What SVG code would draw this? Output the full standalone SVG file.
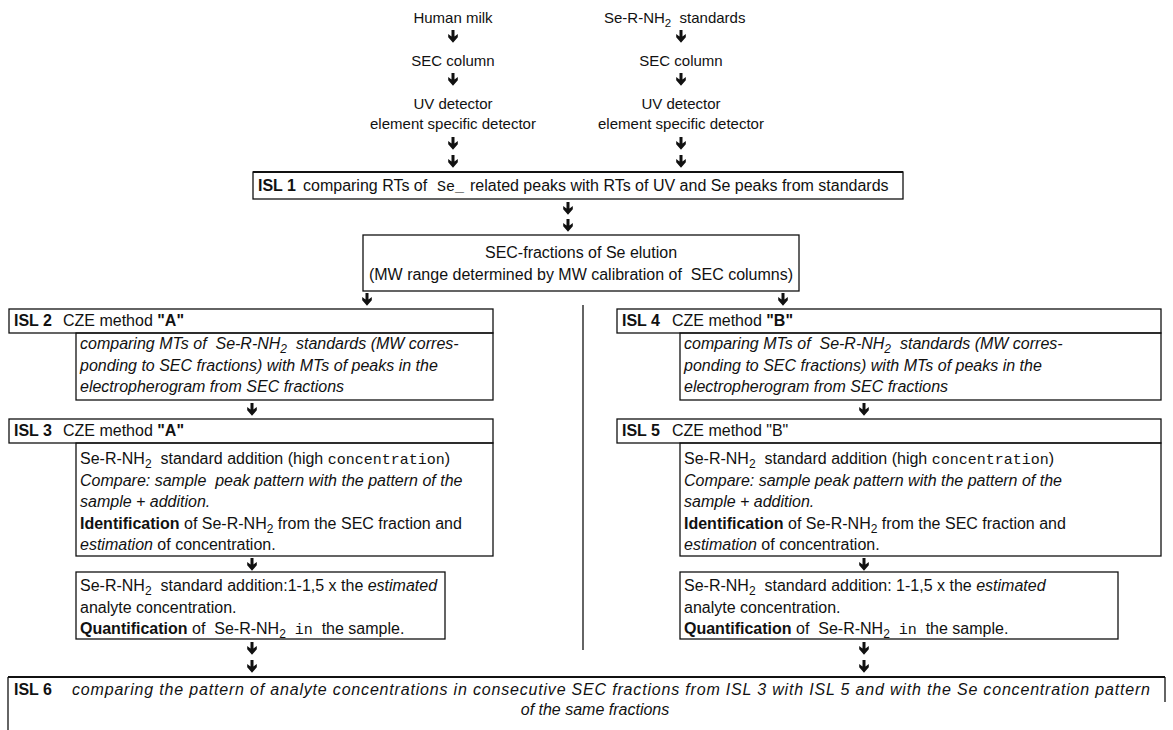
<svg xmlns="http://www.w3.org/2000/svg" width="1173" height="730" viewBox="0 0 1173 730" xml:space="preserve">
<defs>
<style>
.t{font-family:"Liberation Sans",Arial,sans-serif;font-size:16px;fill:#111;white-space:pre}
.s{font-size:15px}
.b{font-weight:bold}
.i{font-style:italic}
.m{font-family:"Liberation Mono","Courier New",monospace;font-size:15px}
.bx{fill:none;stroke:#111;stroke-width:1.3}
.tk{fill:none;stroke:#111;stroke-width:2.2}
.ln{fill:none;stroke:#111;stroke-width:1.3}
</style>
<path id="arr" d="M-1.5,0 H1.5 V6.5 L4.8,4 V7.2 L0,12.8 L-4.8,7.2 V4 L-1.5,6.5 Z" fill="#111"/>
</defs>
<rect width="1173" height="730" fill="#fff"/>

<g id="connectors">
<use href="#arr" x="453" y="30"/>
<use href="#arr" x="453" y="73"/>
<use href="#arr" x="453" y="137"/>
<use href="#arr" x="453" y="155"/>
<use href="#arr" x="681" y="30"/>
<use href="#arr" x="681" y="73"/>
<use href="#arr" x="681" y="137"/>
<use href="#arr" x="681" y="155"/>
<use href="#arr" x="568" y="202"/>
<use href="#arr" x="568" y="219"/>
<use href="#arr" x="367" y="293"/>
<use href="#arr" x="783" y="293"/>
<use href="#arr" x="252" y="403"/>
<use href="#arr" x="864" y="403"/>
<use href="#arr" x="252" y="558"/>
<use href="#arr" x="864" y="558"/>
<use href="#arr" x="252" y="642"/>
<use href="#arr" x="252" y="660"/>
<use href="#arr" x="864" y="642"/>
<use href="#arr" x="864" y="660"/>
<line class="ln" x1="583" y1="305" x2="583" y2="650"/>
</g>

<g id="milk">
<text class="t s" x="453" y="23" text-anchor="middle">Human milk</text>
<text class="t s" x="453" y="66" text-anchor="middle">SEC column</text>
<text class="t s" x="453" y="109" text-anchor="middle">UV detector</text>
<text class="t s" x="453" y="129" text-anchor="middle">element specific detector</text>
</g>

<g id="standards">
<text class="t s" x="604" y="23">Se-R-NH<tspan font-size="11.5" dy="4">2</tspan><tspan dy="-4">  standards</tspan></text>
<text class="t s" x="681" y="66" text-anchor="middle">SEC column</text>
<text class="t s" x="681" y="109" text-anchor="middle">UV detector</text>
<text class="t s" x="681" y="129" text-anchor="middle">element specific detector</text>
</g>

<g id="isl1">
<rect class="bx" x="253" y="172" width="650" height="27"/>
<line class="tk" x1="253" y1="172" x2="903" y2="172"/>
<text class="t b" x="258" y="191">ISL 1</text>
<text class="t" x="303" y="191">comparing RTs of</text>
<text class="t m" x="437" y="191">Se_</text>
<text class="t" x="470" y="191">related peaks with RTs of UV and Se peaks from standards</text>
</g>

<g id="secfractions">
<rect class="bx" x="363" y="235" width="436" height="56"/>
<text class="t" x="581" y="258" text-anchor="middle">SEC-fractions of Se elution</text>
<text class="t" x="581" y="280" text-anchor="middle">(MW range determined by MW calibration of  SEC columns)</text>
</g>

<g id="isl2">
<rect class="bx" x="9" y="309" width="484" height="24"/>
<rect class="bx" x="76" y="333" width="417" height="67"/>
<text class="t b" x="14" y="326">ISL 2</text>
<text class="t" x="63" y="326">CZE method <tspan class="b">"A"</tspan></text>
<text class="t i" x="80" y="349">comparing MTs of  Se-R-NH<tspan font-size="12" dy="4">2</tspan><tspan dy="-4">  standards (MW corres-</tspan></text>
<text class="t i" x="80" y="370.5">ponding to SEC fractions) with MTs of peaks in the</text>
<text class="t i" x="80" y="392">electropherogram from SEC fractions</text>
</g>

<g id="isl3">
<rect class="bx" x="9" y="419" width="484" height="24"/>
<rect class="bx" x="76" y="443" width="417" height="113"/>
<text class="t b" x="14" y="436">ISL 3</text>
<text class="t" x="63" y="436">CZE method <tspan class="b">"A"</tspan></text>
<text class="t" x="80" y="464">Se-R-NH<tspan font-size="12" dy="4">2</tspan><tspan dy="-4">  standard addition (high </tspan><tspan class="m">concentration</tspan>)</text>
<text class="t i" x="80" y="485.5">Compare: sample  peak pattern with the pattern of the</text>
<text class="t i" x="80" y="507">sample + addition.</text>
<text class="t" x="80" y="528.5"><tspan class="b">Identification</tspan> of Se-R-NH<tspan font-size="12" dy="4">2</tspan><tspan dy="-4"> from the SEC fraction and</tspan></text>
<text class="t" x="80" y="550"><tspan class="i">estimation</tspan> of concentration.</text>
</g>

<g id="quantA">
<rect class="bx" x="76" y="572" width="369" height="67"/>
<text class="t" x="80" y="591">Se-R-NH<tspan font-size="12" dy="4">2</tspan><tspan dy="-4">  standard addition:1-1,5 x the </tspan><tspan class="i">estimated</tspan></text>
<text class="t" x="80" y="612.5">analyte concentration.</text>
<text class="t" x="80" y="634"><tspan class="b">Quantification</tspan> of  Se-R-NH<tspan font-size="12" dy="4">2</tspan><tspan dy="-4">  </tspan><tspan class="m">in</tspan>  the sample.</text>
</g>

<g id="isl4">
<rect class="bx" x="617" y="309" width="544" height="24"/>
<rect class="bx" x="680" y="333" width="481" height="67"/>
<text class="t b" x="622" y="326">ISL 4</text>
<text class="t" x="672" y="326">CZE method <tspan class="b">"B"</tspan></text>
<text class="t i" x="684" y="349">comparing MTs of  Se-R-NH<tspan font-size="12" dy="4">2</tspan><tspan dy="-4">  standards (MW corres-</tspan></text>
<text class="t i" x="684" y="370.5">ponding to SEC fractions) with MTs of peaks in the</text>
<text class="t i" x="684" y="392">electropherogram from SEC fractions</text>
</g>

<g id="isl5">
<rect class="bx" x="617" y="419" width="544" height="24"/>
<rect class="bx" x="680" y="443" width="481" height="113"/>
<text class="t b" x="622" y="436">ISL 5</text>
<text class="t" x="672" y="436">CZE method "B"</text>
<text class="t" x="684" y="464">Se-R-NH<tspan font-size="12" dy="4">2</tspan><tspan dy="-4">  standard addition (high </tspan><tspan class="m">concentration</tspan>)</text>
<text class="t i" x="684" y="485.5">Compare: sample peak pattern with the pattern of the</text>
<text class="t i" x="684" y="507">sample + addition.</text>
<text class="t" x="684" y="528.5"><tspan class="b">Identification</tspan> of Se-R-NH<tspan font-size="12" dy="4">2</tspan><tspan dy="-4"> from the SEC fraction and</tspan></text>
<text class="t" x="684" y="550"><tspan class="i">estimation</tspan> of concentration.</text>
</g>

<g id="quantB">
<rect class="bx" x="680" y="572" width="438" height="67"/>
<text class="t" x="684" y="591">Se-R-NH<tspan font-size="12" dy="4">2</tspan><tspan dy="-4">  standard addition: 1-1,5 x the </tspan><tspan class="i">estimated</tspan></text>
<text class="t" x="684" y="612.5">analyte concentration.</text>
<text class="t" x="684" y="634"><tspan class="b">Quantification</tspan> of  Se-R-NH<tspan font-size="12" dy="4">2</tspan><tspan dy="-4">  </tspan><tspan class="m">in</tspan>  the sample.</text>
</g>

<g id="isl6">
<line class="tk" x1="8" y1="677" x2="1165" y2="677"/>
<line class="ln" x1="8" y1="677" x2="8" y2="730"/>
<line class="ln" x1="1165" y1="677" x2="1165" y2="702"/>
<text class="t b" x="14" y="695">ISL 6</text>
<text class="t i" x="72" y="695" textLength="1078" lengthAdjust="spacing">comparing the pattern of analyte concentrations in consecutive SEC fractions from ISL 3 with ISL 5 and with the Se concentration pattern</text>
<text class="t i" x="595" y="715" text-anchor="middle">of the same fractions</text>
</g>
</svg>
